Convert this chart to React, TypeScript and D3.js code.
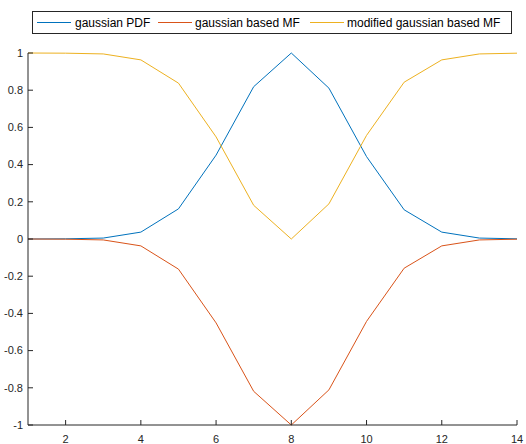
import React from 'react'
import * as d3 from 'd3'

const xs = [1, 2, 3, 4, 5, 6, 7, 8, 9, 10, 11, 12, 13, 14]
const gaussPdf = [0.0, 0.001, 0.005, 0.037, 0.162, 0.451, 0.819, 1.0, 0.811, 0.443, 0.157, 0.037, 0.005, 0.001]
const gaussMf = [0.0, -0.001, -0.005, -0.037, -0.162, -0.451, -0.819, -1.0, -0.811, -0.443, -0.157, -0.037, -0.005, -0.001]
const modGaussMf = [1.0, 0.999, 0.995, 0.963, 0.838, 0.549, 0.181, 0.0, 0.189, 0.557, 0.843, 0.963, 0.995, 0.999]

const seriesNames = ['gaussian PDF', 'gaussian based MF', 'modified gaussian based MF']
const seriesColors = ['#0072BD', '#D95319', '#EDB120']
const xTicks = [2, 4, 6, 8, 10, 12, 14]
const yTicks = [-1, -0.8, -0.6, -0.4, -0.2, 0, 0.2, 0.4, 0.6, 0.8, 1]

const width = 526,
  height = 444,
  margin = { top: 53, right: 9, bottom: 19, left: 28 }

const axisColor = '#262626'

export default function App() {
  const x = d3
    .scaleLinear()
    .domain([1, 14])
    .range([margin.left, width - margin.right])
  const y = d3
    .scaleLinear()
    .domain([-1, 1])
    .range([height - margin.bottom, margin.top])

  const line = d3
    .line<number>()
    .x((d, i) => x(xs[i]))
    .y(d => y(d))

  const series = [gaussPdf, gaussMf, modGaussMf]

  // legend layout: line sample then label, measured in px
  const legendItems = [
    { lx: 37, tx: 75 },
    { lx: 158, tx: 195 },
    { lx: 310, tx: 347 }
  ]

  return (
    <svg
      width={width}
      height={height}
      style={{ position: 'absolute', left: 0, top: 0, background: '#fff' }}
      fontFamily='"Liberation Sans", Arial, Helvetica, sans-serif'>
      {/* data lines */}
      {series.map((s, i) => (
        <path
          key={i}
          d={line(s) || ''}
          fill='none'
          stroke={seriesColors[i]}
          strokeWidth={1}
        />
      ))}

      {/* y axis */}
      <g>
        <line
          x1={margin.left}
          x2={margin.left}
          y1={y(-1)}
          y2={y(1)}
          stroke={axisColor}
          strokeWidth={1}
        />
        {yTicks.map(t => (
          <g key={t}>
            <line
              x1={margin.left}
              x2={margin.left + 5}
              y1={y(t)}
              y2={y(t)}
              stroke={axisColor}
            />
            <text
              x={margin.left - 5}
              y={y(t)}
              dy='.35em'
              textAnchor='end'
              fontSize={11}
              fill={axisColor}>
              {t}
            </text>
          </g>
        ))}
      </g>

      {/* x axis */}
      <g>
        <line
          x1={x(1)}
          x2={x(14)}
          y1={y(-1)}
          y2={y(-1)}
          stroke={axisColor}
          strokeWidth={1}
        />
        {xTicks.map(t => (
          <g key={t}>
            <line
              x1={x(t)}
              x2={x(t)}
              y1={y(-1)}
              y2={y(-1) - 5}
              stroke={axisColor}
            />
            <text
              x={x(t)}
              y={y(-1) + 18}
              textAnchor='middle'
              fontSize={11}
              fill={axisColor}>
              {t}
            </text>
          </g>
        ))}
      </g>

      {/* legend */}
      <g>
        <rect
          x={32.5}
          y={11.5}
          width={479}
          height={22}
          fill='#fff'
          stroke={axisColor}
          strokeWidth={1}
        />
        {seriesNames.map((n, i) => (
          <g key={n}>
            <line
              x1={legendItems[i].lx}
              x2={legendItems[i].lx + 34}
              y1={22.5}
              y2={22.5}
              stroke={seriesColors[i]}
              strokeWidth={1}
            />
            <text
              x={legendItems[i].tx}
              y={22.5}
              dy='.35em'
              fontSize={12}
              fill='#000'>
              {n}
            </text>
          </g>
        ))}
      </g>
    </svg>
  )
}
